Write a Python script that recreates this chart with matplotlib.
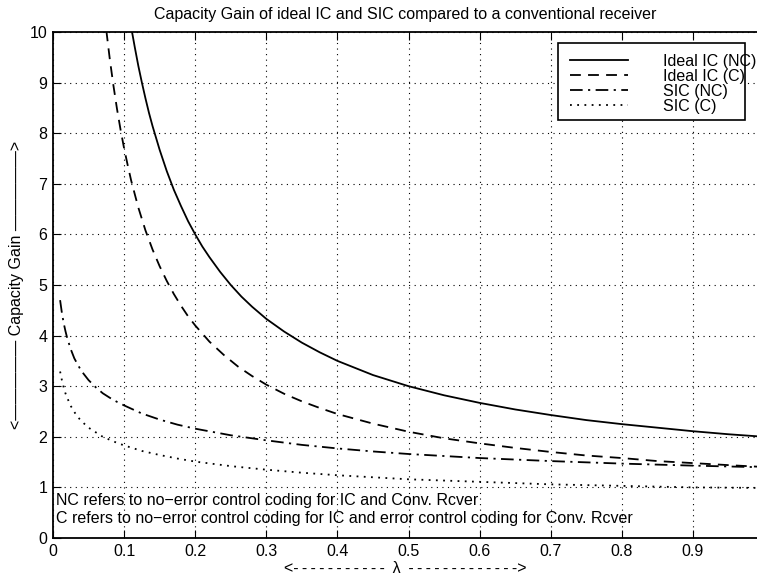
import matplotlib
matplotlib.use('Agg')
import matplotlib.pyplot as plt
from matplotlib.patches import Rectangle

plt.rcParams['font.family'] = ['Liberation Sans', 'DejaVu Sans']

# values
lam_nc = [0.11, 0.115, 0.12, 0.125, 0.13, 0.135, 0.14, 0.15, 0.16, 0.17, 0.18, 0.19,
          0.2, 0.21, 0.22, 0.235, 0.25, 0.265, 0.28, 0.3, 0.325, 0.35, 0.375, 0.4,
          0.45, 0.5, 0.55, 0.6, 0.65, 0.7, 0.75, 0.8, 0.85, 0.9, 0.95, 0.99]
ideal_nc = [10.09, 9.7, 9.33, 9.0, 8.69, 8.4, 8.14, 7.67, 7.25, 6.88, 6.56, 6.26,
            6.0, 5.76, 5.55, 5.26, 5.0, 4.77, 4.57, 4.33, 4.08, 3.86, 3.67, 3.5,
            3.22, 3.0, 2.82, 2.67, 2.54, 2.43, 2.33, 2.25, 2.18, 2.11, 2.05, 2.01]

lam_c = [0.075, 0.08, 0.085, 0.09, 0.095, 0.1, 0.105, 0.11, 0.12, 0.13, 0.14, 0.15,
         0.16, 0.17, 0.18, 0.19, 0.2, 0.22, 0.24, 0.26, 0.28, 0.3, 0.325, 0.35,
         0.375, 0.4, 0.45, 0.5, 0.55, 0.6, 0.65, 0.7, 0.75, 0.8, 0.85, 0.9, 0.95, 0.99]
ideal_c = [10.03, 9.45, 8.94, 8.48, 8.07, 7.7, 7.37, 7.06, 6.53, 6.08, 5.7, 5.37,
           5.08, 4.82, 4.59, 4.38, 4.2, 3.88, 3.62, 3.39, 3.2, 3.03, 2.85, 2.7,
           2.57, 2.45, 2.26, 2.1, 1.97, 1.87, 1.78, 1.7, 1.63, 1.58, 1.52, 1.48, 1.44, 1.41]

lam_sic = [0.01, 0.0125, 0.015, 0.0175, 0.02, 0.025, 0.03, 0.035, 0.04, 0.05, 0.06,
           0.07, 0.08, 0.09, 0.1, 0.125, 0.15, 0.175, 0.2, 0.25, 0.3, 0.35, 0.4,
           0.45, 0.5, 0.6, 0.7, 0.8, 0.9, 0.99]
sic_nc = [4.7, 4.45, 4.25, 4.09, 3.95, 3.73, 3.55, 3.42, 3.3, 3.12, 2.98,
          2.86, 2.77, 2.69, 2.62, 2.46, 2.34, 2.24, 2.16, 2.03, 1.93, 1.84, 1.77,
          1.71, 1.66, 1.58, 1.52, 1.47, 1.43, 1.4]
sic_c = [3.29, 3.12, 2.98, 2.86, 2.77, 2.61, 2.49, 2.39, 2.31, 2.18, 2.09,
         2.0, 1.94, 1.88, 1.83, 1.72, 1.64, 1.57, 1.51, 1.42, 1.35, 1.29, 1.24,
         1.2, 1.16, 1.11, 1.06, 1.03, 1.0, 0.99]

x_ticks = [0, 0.1, 0.2, 0.3, 0.4, 0.5, 0.6, 0.7, 0.8, 0.9]
x_labels = ['0', '0.1', '0.2', '0.3', '0.4', '0.5', '0.6', '0.7', '0.8', '0.9']
y_ticks = list(range(0, 11))

fs = 11.5
fig = plt.figure(figsize=(7.57, 5.77), dpi=100)
ax = fig.add_axes([0.0700, 0.0676, 0.9300, 0.8770])

ax.plot(lam_nc, ideal_nc, color='k', ls='-', lw=1.3, label='Ideal IC (NC)')
ax.plot(lam_c, ideal_c, color='k', ls=(0, (6, 4)), lw=1.3, label='Ideal IC (C)')
ax.plot(lam_sic, sic_nc, color='k', ls=(0, (7, 3, 1.2, 3)), lw=1.3, label='SIC (NC)')
ax.plot(lam_sic, sic_c, color='k', ls=(0, (1, 3)), lw=1.3, label='SIC (C)')

ax.set_xlim(0, 0.99)
ax.set_ylim(0, 10)
ax.set_xticks(x_ticks)
ax.set_xticklabels(x_labels)
ax.set_yticks(y_ticks)
ax.tick_params(direction='in', top=True, right=False, labelsize=fs, length=6, pad=4)
ax.grid(True, color='k', linestyle=(0, (1, 4)), linewidth=0.8)
for s in ax.spines.values():
    s.set_linewidth(1.3)
ax.spines['right'].set_visible(False)

ax.set_title('Capacity Gain of ideal IC and SIC compared to a conventional receiver',
             fontsize=fs, pad=9)
ax.set_xlabel('<' + '-\u2009' * 11 + ' \u03bb ' + '\u2009-' * 13 + '>', fontsize=fs, labelpad=2)
ax.set_ylabel('<' + '\u2014' * 5 + ' Capacity Gain ' + '\u2014' * 5 + '>', fontsize=fs, labelpad=4)

ax.text(0.004, 0.75, 'NC refers to no\u2212error control coding for IC and Conv. Rcver',
        fontsize=fs, va='center')
ax.text(0.004, 0.39, 'C refers to no\u2212error control coding for IC and error control coding for Conv. Rcver',
        fontsize=fs, va='center')

leg = ax.legend(loc='upper left', bbox_to_anchor=(0.735, 0.957), fontsize=fs,
                frameon=False, borderpad=0, borderaxespad=0, handlelength=3.6,
                handletextpad=2.2, labelspacing=0.0)
ax.add_patch(Rectangle((0.717, 0.826), 0.266, 0.152, transform=ax.transAxes,
                       facecolor='white', edgecolor='k', lw=1.2, zorder=4))
leg.set_zorder(5)

fig.savefig('out.png', dpi=100)
